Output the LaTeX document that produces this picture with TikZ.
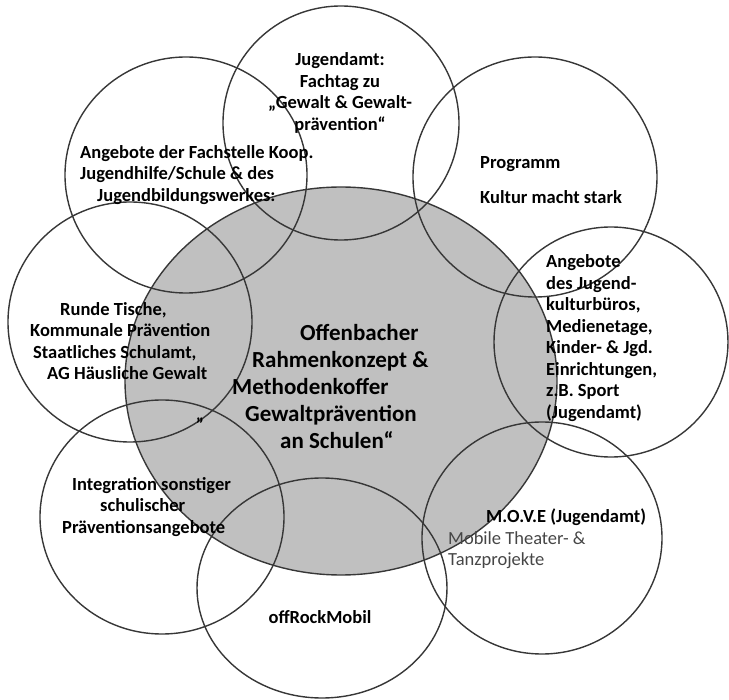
\documentclass[tikz,border=0pt]{standalone}
\usepackage{fontspec}
\setmainfont{Carlito}
\usepackage{tikz}
\usetikzlibrary{positioning}
\definecolor{kerngrau}{RGB}{192,192,192}
\definecolor{randlinie}{RGB}{55,55,55}
\definecolor{schriftgrau}{RGB}{70,70,70}
\tikzset{
    ring/.style={draw=randlinie, line width=1.4pt},
    txt/.style={font=\bfseries\fontsize{18.5}{21.5}\selectfont, inner sep=0pt, align=center},
    kerntxt/.style={font=\bfseries\fontsize{23}{27}\selectfont, inner sep=0pt, align=left}
}
\begin{document}
\begin{tikzpicture}[x=1pt, y=-1pt]
    \useasboundingbox (0,0) rectangle (729,700);

    \coordinate (kern) at (341,381);
    \coordinate (c1) at (341,123);
    \coordinate (c2) at (186,175);
    \coordinate (c3) at (535,177);
    \coordinate (c4) at (130,322);
    \coordinate (c5) at (611,342);
    \coordinate (c6) at (162,517);
    \coordinate (c7) at (322,588);
    \coordinate (c8) at (542,538);

    % gray core
    \fill[kerngrau] (kern) ellipse [x radius=216pt, y radius=194pt];

    % draw circles
    \foreach \c/\rx/\ry in {c1/118/117, c2/121/118, c3/122/120, c4/122/120,
        c5/117/115, c6/122/117, c7/125/110, c8/120/116}
    {
        \draw[ring] (\c) ellipse [x radius=\rx pt, y radius=\ry pt];
    }
    \draw[ring] (kern) ellipse [x radius=216pt, y radius=194pt];

    % texts
    \node[txt] (jugendamt) at (340,93)
        {Jugendamt:\\Fachtag zu\\„Gewalt \& Gewalt-\\prävention“};
    \node[txt, anchor=west, align=left] (fachstelle) at (80,175)
        {Angebote der Fachstelle Koop.\\Jugendhilfe/Schule \& des\\\hspace*{17pt}Jugendbildungswerkes:};
    \node[txt, anchor=west, align=left] (programm) at (480,180)
        {Programm\\[14pt]Kultur macht stark};
    \node[txt, anchor=west, align=left] (runde) at (30,341)
        {\hspace*{30pt}Runde Tische,\\Kommunale Prävention\\\hspace*{3pt}Staatliches Schulamt,\\\hspace*{17pt}AG Häusliche Gewalt};
    \node[kerntxt, anchor=west] (kerntext) at (232,387)
        {\hspace*{68pt}Offenbacher\\\hspace*{20pt}Rahmenkonzept \&\\Methodenkoffer\\\hspace*{13pt}Gewaltprävention\\\hspace*{48pt}an Schulen“};
    \node[txt] (quote) at (200,421) {„};
    \node[txt, anchor=west, align=left] (kultur) at (546,338)
        {Angebote\\des Jugend-\\kulturbüros,\\Medienetage,\\Kinder- \& Jgd.\\Einrichtungen,\\z.B. Sport\\(Jugendamt)};
    \node[txt, anchor=west, align=left] (integration) at (62,507)
        {\hspace*{10pt}Integration sonstiger\\\hspace*{38pt}schulischer\\Präventionsangebote};
    \node[txt] (offrock) at (320,617) {offRockMobil};
    \node[txt, font=\mdseries\fontsize{18.5}{21.5}\selectfont, text=schriftgrau, anchor=west, align=left] (move) at (448,539)
        {\hspace*{38pt}\textcolor{black}{\bfseries M.O.V.E (Jugendamt)}\\Mobile Theater- \&\\Tanzprojekte};
\end{tikzpicture}
\end{document}
